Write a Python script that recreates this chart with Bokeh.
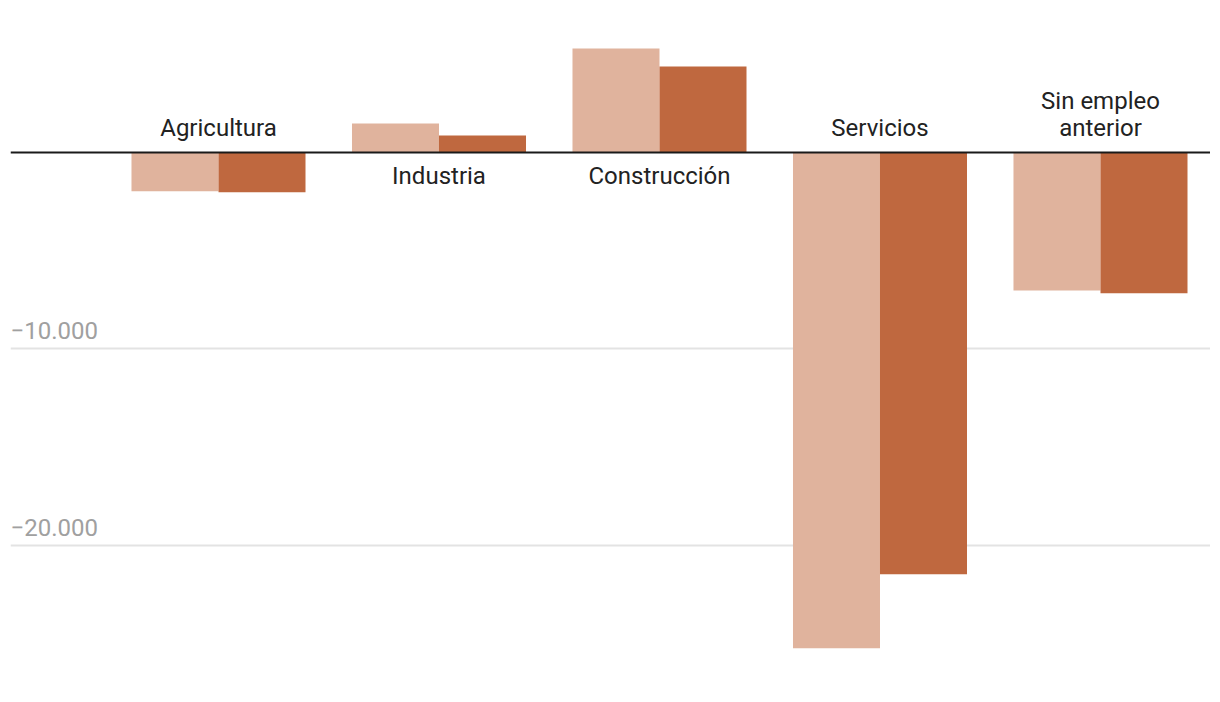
from bokeh.plotting import figure
from bokeh.models import ColumnDataSource, Span, Range1d, FixedTicker, Grid
from bokeh.core.properties import value
from bokeh.embed import file_html
from bokeh.resources import INLINE

categories = ["Agricultura", "Industria", "Construcción", "Servicios", "Sin empleo\nanterior"]
serie_a = [-1970, 1476, 5293, -25226, -7023]
serie_b = [-2020, 865, 4377, -21460, -7160]
tick_values = [-10000, -20000]
tick_labels = ["−10.000", "−20.000"]

LIGHT = "#e0b39d"
DARK = "#bf683f"
FONT = "Roboto"

p = figure(width=1210, height=686, output_backend="svg", toolbar_location=None,
           x_axis_type=None, y_axis_type=None,
           x_range=Range1d(-0.9433, 4.4989), y_range=Range1d(-27176, 7328),
           min_border_left=10, min_border_right=0, min_border_top=8, min_border_bottom=0)
p.outline_line_color = None
p.background_fill_color = "white"

idx = list(range(len(categories)))
bw = 0.3946
src = ColumnDataSource(dict(
    xa=[i - bw / 2 for i in idx], xb=[i + bw / 2 for i in idx],
    a=serie_a, b=serie_b))

p.add_layout(Grid(dimension=1, ticker=FixedTicker(ticks=tick_values),
                  grid_line_color="#e3e3e3", grid_line_width=2))

p.vbar(x="xa", top="a", bottom=0, width=bw, source=src, fill_color=LIGHT, line_color=None)
p.vbar(x="xb", top="b", bottom=0, width=bw, source=src, fill_color=DARK, line_color=None)

p.add_layout(Span(location=0, dimension="width", line_color="#1a1a1a", line_width=2))

# category labels
lx, ly, lt, loff = [], [], [], []
for i, cat in enumerate(categories):
    lines = cat.split("\n")
    n = len(lines)
    neg = (serie_a[i] + serie_b[i]) < 0
    for k, line in enumerate(lines):
        lx.append(i)
        ly.append(0)
        lt.append(line)
        if neg:
            loff.append(-24 - 27 * (n - 1 - k))
        else:
            loff.append(24 + 27 * k)
lsrc = ColumnDataSource(dict(x=lx, y=ly, t=lt, off=loff))
p.text(x="x", y="y", text="t", y_offset="off", source=lsrc, text_align="center",
       text_baseline="alphabetic", text_font=value(FONT), text_font_size="24px",
       text_color="#222222")

# tick labels
tsrc = ColumnDataSource(dict(x=[p.x_range.start] * len(tick_values), y=tick_values, t=tick_labels))
p.text(x="x", y="y", text="t", source=tsrc, y_offset=-18, text_align="left",
       text_baseline="alphabetic", text_font=value(FONT), text_font_size="24px",
       text_color="#a0a0a0")

open("out.html", "w").write(file_html(p, INLINE))
